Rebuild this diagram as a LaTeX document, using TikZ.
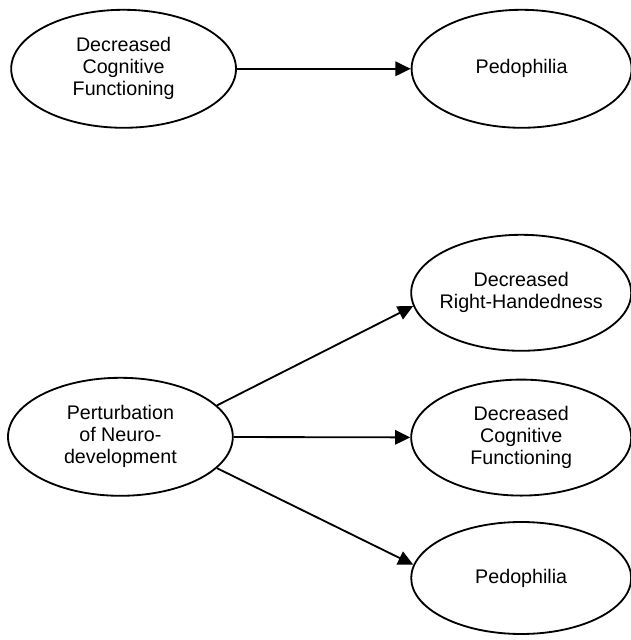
\documentclass[tikz,border=0pt]{standalone}
\usepackage{fontspec}
\setsansfont{Liberation Sans}
\usepackage{tikz}
\usetikzlibrary{arrows.meta,shapes.geometric}

\begin{document}
\begin{tikzpicture}[
 font=\fontsize{14}{15.6}\selectfont\sffamily,
 factor/.style={draw,ellipse,line width=1.3pt,inner sep=0pt,inner xsep=-2mm,minimum width=5.5cm,minimum height=2.9cm,align=center},
 arr/.style={-{Triangle[length=3.8mm,width=3.6mm]},line width=1.3pt}
]
\useasboundingbox (0,0) rectangle (15.775,16.0);
\node[factor,minimum width=5.62cm,minimum height=2.95cm] (cog1) at (3.09,14.28) {Decreased\\Cognitive\\Functioning};
\node[factor,minimum height=2.95cm] (ped1) at (13.04,14.28) {Pedophilia};
\draw[arr] (cog1)--(ped1);

\node[factor,minimum width=5.62cm,minimum height=2.95cm] (neuro) at (3.01,5.08) {Perturbation\\of Neuro-\\development};
\node[factor] (hand) at (13.03,8.68) {Decreased\\Right-Handedness};
\node[factor] (cog2) at (13.03,5.06) {Decreased\\Cognitive\\Functioning};
\node[factor,minimum height=2.8cm] (ped2) at (13.03,1.55) {Pedophilia};
\draw[arr] (neuro.18)--(hand.187);
\draw[arr] (neuro)--(cog2);
\draw[arr] (neuro.-18)--(ped2.173);
\end{tikzpicture}
\end{document}
